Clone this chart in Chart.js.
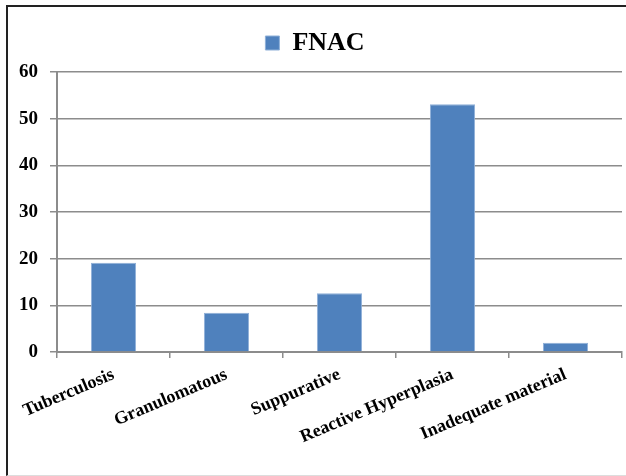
<!DOCTYPE html>
<html>
<head>
<meta charset="utf-8">
<script src="https://cdn.jsdelivr.net/npm/chart.js@4"></script>
<style>
  html, body { margin: 0; padding: 0; background: #fff; }
  .wrap { position: relative; width: 626px; height: 476px; }
  .frame { position: absolute; left: 6px; top: 5px; right: 0; bottom: 0;
           border-left: 2px solid #222; border-top: 2px solid #222;
           border-bottom: 1px solid #ddd; pointer-events: none; }
</style>
</head>
<body>
<div class="wrap">
  <canvas id="fnacChart" width="626" height="476"></canvas>
  <div class="frame"></div>
</div>
<script>
const categories = ['Tuberculosis', 'Granulomatous', 'Suppurative', 'Reactive Hyperplasia', 'Inadequate material'];
const fnacValues = [19.1, 8.4, 12.6, 53.1, 2.0];
const yTicks = [0, 10, 20, 30, 40, 50, 60];

const ctx = document.getElementById('fnacChart').getContext('2d');
const serif = "'Liberation Serif', 'Times New Roman', serif";

// extra space under the legend
const legendGap = {
    id: 'legendGap',
    beforeInit(chart) {
        const fit = chart.legend.fit;
        chart.legend.fit = function () {
            fit.bind(chart.legend)();
            this.height += 6;
        };
    }
};

new Chart(ctx, {
    type: 'bar',
    data: {
        labels: categories,
        datasets: [{
            label: 'FNAC',
            data: fnacValues,
            backgroundColor: '#4f81bd',
            borderColor: '#8fb0d8',
            borderWidth: 1,
            barPercentage: 0.4,
            categoryPercentage: 1
        }]
    },
    options: {
        responsive: false,
        animation: false,
        layout: { padding: { left: 8, right: 4, top: 12, bottom: 0 } },
        plugins: {
            legend: {
                position: 'top',
                labels: {
                    color: '#000',
                    boxWidth: 14,
                    boxHeight: 14,
                    padding: 18,
                    font: { family: serif, size: 26, weight: 'bold' }
                }
            },
            tooltip: { enabled: false }
        },
        scales: {
            x: {
                offset: true,
                grid: {
                    offset: true,
                    drawOnChartArea: false,
                    drawTicks: true,
                    tickLength: 6,
                    color: '#8c8c8c',
                    lineWidth: 1.5
                },
                border: { color: '#8c8c8c', width: 2 },
                ticks: {
                    color: '#000',
                    minRotation: 23,
                    maxRotation: 23,
                    padding: 6,
                    font: { family: serif, size: 18, weight: 'bold' }
                },
                afterFit: (scale) => { scale.height = 124; }
            },
            y: {
                min: 0,
                max: 60,
                afterBuildTicks: (scale) => { scale.ticks = yTicks.map(v => ({ value: v })); },
                grid: {
                    color: '#8c8c8c',
                    lineWidth: 1.5,
                    tickLength: 7
                },
                border: { color: '#8c8c8c', width: 2 },
                ticks: {
                    color: '#000',
                    padding: 12,
                    font: { family: serif, size: 19, weight: 'bold' }
                },
                afterFit: (scale) => { scale.width = 49; }
            }
        }
    },
    plugins: [legendGap]
});
</script>
</body>
</html>
